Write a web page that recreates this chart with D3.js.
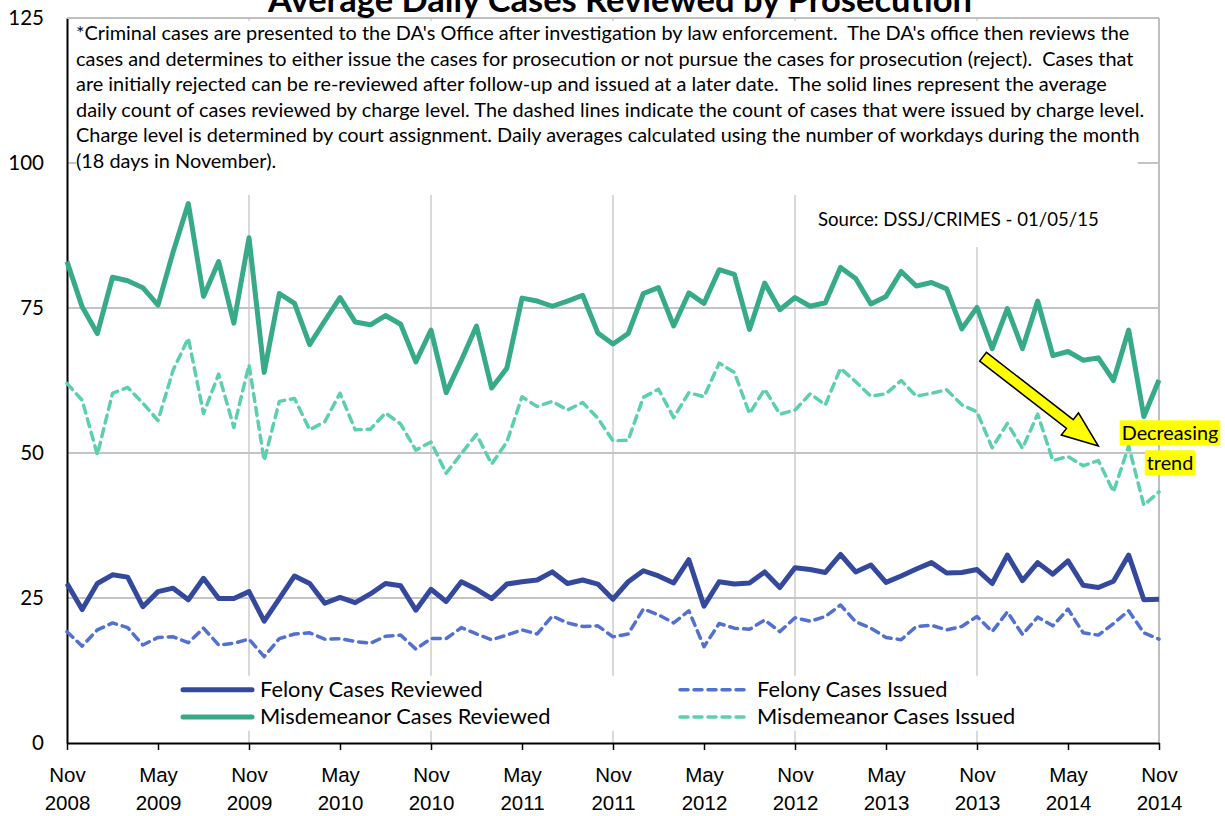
<!DOCTYPE html>
<html>
<head>
<meta charset="utf-8">
<script src="https://cdn.jsdelivr.net/npm/d3@7"></script>
<style>
    body { margin: 0; background: #fff; }
    svg { font-family: Lato, "Open Sans", sans-serif; }
</style>
</head>
<body>
<div id="chart"></div>
<script>
// monthly values, Nov 2008 .. Nov 2014 (73 months)
var misdReviewed = [
    83.0, 75.2, 70.6, 80.3, 79.7, 78.5, 75.5, 84.7, 93.0, 77.0, 83.0, 72.4,
    87.1, 63.9, 77.5, 75.8, 68.7, 72.8, 76.8, 72.6, 72.1, 73.7, 72.2, 65.7,
    71.2, 60.4, 66.0, 71.9, 61.2, 64.6, 76.7, 76.2, 75.3, 76.2, 77.2, 70.7,
    68.8, 70.6, 77.5, 78.5, 71.9, 77.6, 75.8, 81.6, 80.8, 71.3, 79.3, 74.7,
    76.8, 75.3, 75.9, 82.0, 80.1, 75.7, 77.0, 81.3, 78.8, 79.4, 78.3, 71.4,
    75.1, 68.0, 74.9, 68.0, 76.2, 66.8, 67.5, 66.0, 66.4, 62.5, 71.2, 56.3,
    62.6
];
var misdIssued = [
    62.0, 59.1, 49.7, 60.3, 61.3, 58.6, 55.6, 64.3, 69.8, 56.8, 63.6, 54.4,
    65.2, 48.7, 58.9, 59.4, 54.0, 55.4, 60.3, 54.0, 54.1, 56.9, 55.0, 50.5,
    51.9, 46.5, 49.9, 53.2, 48.1, 51.9, 59.7, 58.0, 58.9, 57.4, 58.7, 56.0,
    52.1, 52.2, 59.6, 61.0, 56.1, 60.4, 59.7, 65.5, 63.9, 56.8, 61.0, 56.7,
    57.4, 60.2, 58.3, 64.6, 62.3, 59.8, 60.2, 62.5, 59.8, 60.3, 60.9, 58.3,
    57.1, 50.9, 55.1, 50.8, 56.7, 48.7, 49.4, 47.8, 48.7, 43.3, 51.2, 41.0,
    43.3
];
var felReviewed = [
    27.5, 23.0, 27.5, 29.0, 28.6, 23.5, 26.1, 26.7, 24.7, 28.4, 24.9, 24.9,
    26.1, 21.0, 24.9, 28.8, 27.5, 24.1, 25.1, 24.2, 25.7, 27.5, 27.1, 22.9,
    26.5, 24.4, 27.8, 26.5, 24.9, 27.4, 27.8, 28.1, 29.5, 27.5, 28.1, 27.4,
    24.8, 27.8, 29.7, 28.8, 27.6, 31.6, 23.6, 27.8, 27.4, 27.6, 29.5, 26.8,
    30.2, 29.9, 29.4, 32.5, 29.5, 30.7, 27.7, 28.8, 30.0, 31.1, 29.3, 29.4,
    29.9, 27.5, 32.4, 28.0, 31.1, 29.1, 31.4, 27.2, 26.8, 27.9, 32.4, 24.7,
    24.8
];
var felIssued = [
    19.2, 16.7, 19.5, 20.7, 19.9, 16.9, 18.2, 18.3, 17.3, 19.8, 16.9, 17.2,
    17.9, 14.9, 18.0, 18.8, 19.0, 17.9, 18.0, 17.5, 17.2, 18.4, 18.6, 16.2,
    18.0, 18.0, 19.9, 18.8, 17.8, 18.6, 19.5, 18.8, 21.9, 20.7, 20.1, 20.2,
    18.3, 18.8, 23.1, 22.1, 20.7, 22.8, 16.6, 20.6, 19.8, 19.6, 21.2, 19.2,
    21.6, 21.0, 21.8, 23.8, 20.9, 19.8, 18.2, 17.8, 20.1, 20.3, 19.5, 20.1,
    21.8, 19.2, 22.6, 18.7, 21.7, 20.2, 23.1, 19.0, 18.6, 20.6, 22.8, 19.0,
    17.9
];

var tickMonths = [0, 6, 12, 18, 24, 30, 36, 42, 48, 54, 60, 66, 72];
var tickLabels = [
    ['Nov', '2008'], ['May', '2009'], ['Nov', '2009'], ['May', '2010'],
    ['Nov', '2010'], ['May', '2011'], ['Nov', '2011'], ['May', '2012'],
    ['Nov', '2012'], ['May', '2013'], ['Nov', '2013'], ['May', '2014'],
    ['Nov', '2014']
];
var yTicks = [0, 25, 50, 75, 100, 125];

var title = 'Average Daily Cases Reviewed by Prosecution';
var noteLines = [
    "*Criminal cases are presented to the DA's Office after investigation by law enforcement.  The DA's office then reviews the",
    "cases and determines to either issue the cases for prosecution or not pursue the cases for prosecution (reject).  Cases that",
    "are initially rejected can be re-reviewed after follow-up and issued at a later date.  The solid lines represent the average",
    "daily count of cases reviewed by charge level. The dashed lines indicate the count of cases that were issued by charge level.",
    "Charge level is determined by court assignment. Daily averages calculated using the number of workdays during the month",
    "(18 days in November)."
];
var sourceText = 'Source: DSSJ/CRIMES - 01/05/15';

var series = [
    { name: 'Felony Cases Reviewed', values: felReviewed, color: '#34499d', width: 5, dash: null },
    { name: 'Felony Cases Issued', values: felIssued, color: '#5270d2', width: 3.5, dash: '8,6' },
    { name: 'Misdemeanor Cases Reviewed', values: misdReviewed, color: '#37ab88', width: 5, dash: null },
    { name: 'Misdemeanor Cases Issued', values: misdIssued, color: '#5bcfae', width: 3.5, dash: '8,6' }
];

var W = 1225, H = 816;
var margin = { left: 67, top: 18, right: 66, bottom: 73 };
var width = W - margin.left - margin.right;
var height = H - margin.top - margin.bottom;

var svg = d3.select('#chart')
    .append('svg')
    .attr('width', W)
    .attr('height', H);

var g = svg.append('g')
    .attr('transform', 'translate(' + margin.left + ',' + margin.top + ')');

var x = d3.scaleLinear().domain([0, 72]).range([0, width]);
var y = d3.scaleLinear().domain([0, 125]).range([height, 0]);

// gridlines
g.append('g')
    .selectAll('line')
    .data(tickMonths.filter(function (d) { return d % 12 === 0 && d > 0; }))
    .enter()
    .append('line')
    .attr('x1', function (d) { return x(d); })
    .attr('x2', function (d) { return x(d); })
    .attr('y1', 0)
    .attr('y2', height)
    .attr('stroke', function (d) { return d === 72 ? '#bfbfbf' : '#d9d9d9'; })
    .attr('stroke-width', 2);

g.append('g')
    .selectAll('line')
    .data(yTicks.filter(function (d) { return d > 0; }))
    .enter()
    .append('line')
    .attr('x1', 0)
    .attr('x2', width)
    .attr('y1', function (d) { return y(d); })
    .attr('y2', function (d) { return y(d); })
    .attr('stroke', '#c4c4c4')
    .attr('stroke-width', 2);

// white panels (note, source, legend) sit on the grid
g.append('rect')
    .attr('x', x(0.6)).attr('y', y(124.5))
    .attr('width', x(70.6) - x(0.6)).attr('height', y(94.5) - y(124.5))
    .attr('fill', '#fff');
g.append('rect')
    .attr('x', x(48.7)).attr('y', y(94.5))
    .attr('width', x(69.1) - x(48.7)).attr('height', y(85.5) - y(94.5))
    .attr('fill', '#fff');
g.append('rect')
    .attr('x', x(6.9)).attr('y', y(11.6))
    .attr('width', x(64.5) - x(6.9)).attr('height', y(2.1) - y(11.6))
    .attr('fill', '#fff');

// axes
var xAxis = d3.axisBottom(x)
    .tickValues(tickMonths)
    .tickSize(7)
    .tickSizeOuter(0)
    .tickFormat('');

var gx = g.append('g')
    .attr('class', 'x axis')
    .attr('transform', 'translate(0,' + height + ')')
    .call(xAxis);
gx.select('.domain').attr('stroke', '#000').attr('stroke-width', 2);
gx.selectAll('.tick line').attr('stroke', '#000').attr('stroke-width', 1.5);

var xl = gx.selectAll('.tick')
    .append('text')
    .attr('fill', '#000')
    .attr('font-size', 20.5)
    .attr('text-anchor', 'middle');
xl.append('tspan')
    .attr('x', 0).attr('y', 39)
    .text(function (d, i) { return tickLabels[i][0]; });
xl.append('tspan')
    .attr('x', 0).attr('y', 67)
    .text(function (d, i) { return tickLabels[i][1]; });

var yAxis = d3.axisLeft(y)
    .tickValues(yTicks)
    .tickSize(0)
    .tickPadding(23)
    .tickSizeOuter(0);

var gy = g.append('g')
    .attr('class', 'y axis')
    .call(yAxis);
gy.select('.domain').attr('stroke', '#000').attr('stroke-width', 2);
gy.selectAll('.tick text')
    .attr('fill', '#000')
    .attr('font-size', 20.5)
    .attr('font-family', 'Lato, sans-serif');

// plot border (top)
g.append('line')
    .attr('x1', 0).attr('x2', width)
    .attr('y1', y(125)).attr('y2', y(125))
    .attr('stroke', '#bfbfbf').attr('stroke-width', 2);

// lines
var line = d3.line()
    .x(function (d, i) { return x(i); })
    .y(function (d) { return y(d); });

g.append('g')
    .selectAll('path')
    .data(series)
    .enter()
    .append('path')
    .attr('d', function (d) { return line(d.values); })
    .attr('fill', 'none')
    .attr('stroke', function (d) { return d.color; })
    .attr('stroke-width', function (d) { return d.width; })
    .attr('stroke-dasharray', function (d) { return d.dash; })
    .attr('stroke-linejoin', 'round')
    .attr('stroke-linecap', function (d) { return d.dash ? 'round' : 'butt'; });

// title, partly cut off at the top
var t = svg.append('text')
    .attr('x', 620)
    .attr('y', 12)
    .attr('text-anchor', 'middle')
    .attr('font-weight', 'bold')
    .attr('font-size', 28)
    .text(title);
var tw = t.node().getComputedTextLength();
t.attr('font-size', 28 * 704 / tw);

// explanatory note (keeps the double spaces)
var note = g.append('g').attr('transform', 'translate(9,0)');
var nl = note.selectAll('text')
    .data(noteLines)
    .enter()
    .append('text')
    .attr('x', 0)
    .attr('y', function (d, i) { return 22 + i * 25.6; })
    .attr('font-size', 17)
    .attr('fill', '#000')
    .style('white-space', 'pre')
    .text(function (d) { return d; });
var nw = nl.node().getComputedTextLength();
nl.attr('font-size', 17 * 1054 / nw);

var src = g.append('text')
    .attr('x', 818 - margin.left)
    .attr('y', y(90.2) + 6)
    .attr('font-size', 17)
    .attr('fill', '#000')
    .text(sourceText);
src.attr('font-size', 17 * 281 / src.node().getComputedTextLength());

// legend
var legendPos = [
    { x: 116, y: y(9.2) }, { x: 613, y: y(9.2) },
    { x: 116, y: y(4.5) }, { x: 613, y: y(4.5) }
];
var lg = g.append('g')
    .selectAll('g')
    .data(series)
    .enter()
    .append('g')
    .attr('transform', function (d, i) {
        return 'translate(' + legendPos[i].x + ',' + legendPos[i].y + ')';
    });
lg.append('line')
    .attr('x1', 0).attr('x2', 69)
    .attr('stroke', function (d) { return d.color; })
    .attr('stroke-width', function (d) { return d.width; })
    .attr('stroke-dasharray', function (d) { return d.dash; })
    .attr('stroke-linecap', 'round');
lg.append('text')
    .attr('x', 77)
    .attr('y', 7.5)
    .attr('font-size', 21.8)
    .attr('fill', '#000')
    .text(function (d) { return d.name; });

// trend arrow annotation
var arrowFrom = [60.4, 66.6];
var arrowTo = [68.0, 51.2];
var ax0 = x(arrowFrom[0]), ay0 = y(arrowFrom[1]);
var ax1 = x(arrowTo[0]), ay1 = y(arrowTo[1]);
var dx = ax1 - ax0, dy = ay1 - ay0;
var len = Math.sqrt(dx * dx + dy * dy);
var ux = dx / len, uy = dy / len, px = -uy, py = ux;
var shaft = 5.5, head = 14, headLen = 36;
function pt(along, side) {
    return [ax0 + ux * along + px * side, ay0 + uy * along + py * side];
}
var arrowPts = [
    pt(0, shaft), pt(len - headLen, shaft), pt(len - headLen, head),
    pt(len, 0),
    pt(len - headLen, -head), pt(len - headLen, -shaft), pt(0, -shaft)
];
g.append('path')
    .attr('d', 'M' + arrowPts.map(function (p) { return p.join(','); }).join('L') + 'Z')
    .attr('fill', '#ffff00')
    .attr('stroke', '#000')
    .attr('stroke-width', 1.5)
    .attr('stroke-linejoin', 'miter');

var trendLabel = ['Decreasing', 'trend'];
var tl = g.append('g')
    .attr('transform', 'translate(' + (x(72) + 11) + ',' + y(53.4) + ')');
tl.selectAll('g')
    .data(trendLabel)
    .enter()
    .append('g')
    .each(function (d, i) {
        var gg = d3.select(this);
        var txt = gg.append('text')
            .attr('x', 0)
            .attr('y', i * 30 + 7)
            .attr('text-anchor', 'middle')
            .attr('font-size', 19.8)
            .attr('fill', '#000')
            .text(d);
        var b = txt.node().getBBox();
        gg.insert('rect', 'text')
            .attr('x', b.x - 2).attr('y', b.y)
            .attr('width', b.width + 4).attr('height', b.height + 1)
            .attr('fill', '#ffff00');
    });
</script>
</body>
</html>
